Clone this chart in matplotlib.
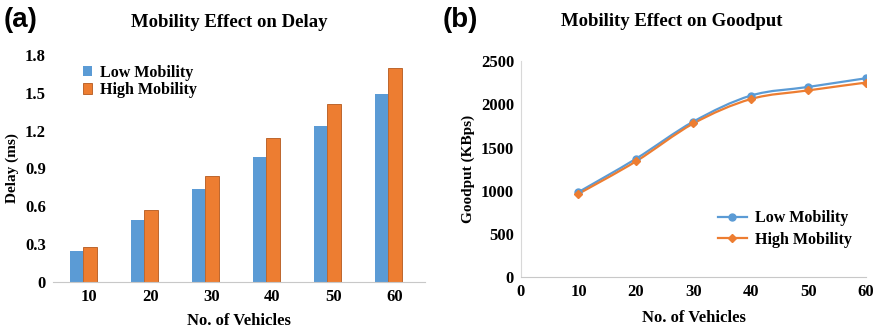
import matplotlib.pyplot as plt
import numpy as np
from matplotlib.path import Path
from matplotlib.patches import PathPatch

vehicles = [10, 20, 30, 40, 50, 60]
delay_low = [0.25, 0.49, 0.74, 0.99, 1.24, 1.49]
delay_high = [0.28, 0.57, 0.84, 1.14, 1.41, 1.70]
good_low = [985, 1370, 1800, 2100, 2200, 2300]
good_high = [965, 1340, 1778, 2060, 2160, 2250]

blue = '#5B9BD5'
orange = '#ED7D31'
serif = 'Liberation Serif'


def smooth_path(x, y, t=1/6):
    # Excel-like smoothed line, Catmull-Rom as bezier segments
    verts = [(x[0], y[0])]
    codes = [Path.MOVETO]
    n = len(x)
    for i in range(n - 1):
        x0, y0 = (x[i - 1], y[i - 1]) if i > 0 else (x[i], y[i])
        x3, y3 = (x[i + 2], y[i + 2]) if i + 2 < n else (x[i + 1], y[i + 1])
        c1 = (x[i] + (x[i + 1] - x0) * t, y[i] + (y[i + 1] - y0) * t)
        c2 = (x[i + 1] - (x3 - x[i]) * t, y[i + 1] - (y3 - y[i]) * t)
        verts += [c1, c2, (x[i + 1], y[i + 1])]
        codes += [Path.CURVE4] * 3
    return Path(verts, codes)


fig = plt.figure(figsize=(8.8, 3.33), dpi=100)

# ---- (a) bars
ax1 = fig.add_axes([0.060, 0.153, 0.423, 0.682])
pos = np.arange(len(vehicles))
w = 0.22
ax1.bar(pos - w / 2, delay_low, w, color=blue, label='Low Mobility')
ax1.bar(pos + w / 2, delay_high, w, color=orange, edgecolor='#b4581c',
        linewidth=0.6, label='High Mobility')
ax1.set_xlim(-0.5, 5.6)
ax1.set_ylim(0, 1.8)
ax1.set_yticks(np.arange(0, 1.81, 0.3))
ax1.set_yticklabels(['0', '0.3', '0.6', '0.9', '1.2', '1.5', '1.8'])
ax1.set_xticks(pos + 0.1)
ax1.set_xticklabels([str(v) for v in vehicles])
ax1.tick_params(length=0, labelsize=12, pad=5)
for s in ['top', 'right', 'left']:
    ax1.spines[s].set_visible(False)
ax1.spines['bottom'].set_color('#c8c8c8')
ax1.set_xlabel('No. of Vehicles', fontsize=12, fontweight='bold', family=serif,
               labelpad=6)
ax1.set_ylabel('Delay (ms)', fontsize=11, fontweight='bold', family=serif,
               labelpad=4)
ax1.set_title('Mobility Effect on Delay', fontsize=13.5, fontweight='bold',
              family=serif, pad=20, x=0.473)
for lab in ax1.get_xticklabels() + ax1.get_yticklabels():
    lab.set_family(serif)
    lab.set_fontweight('bold')
ax1.legend(loc='upper left', bbox_to_anchor=(0.055, 1.0), frameon=False,
           prop={'family': serif, 'weight': 'bold', 'size': 11.5},
           handlelength=0.6, handleheight=0.6, handletextpad=0.5,
           labelspacing=0.1, borderaxespad=0.2)
fig.text(0.004, 0.978, '(a)', fontsize=20, fontweight='bold', va='top',
         family='Liberation Sans')

# ---- (b) lines
ax2 = fig.add_axes([0.592, 0.167, 0.392, 0.650])
for yv, c, m, lab in [(good_low, blue, 'o', 'Low Mobility'),
                      (good_high, orange, 'D', 'High Mobility')]:
    ax2.add_patch(PathPatch(smooth_path(vehicles, yv), fill=False,
                            edgecolor=c, linewidth=1.6))
    ax2.plot(vehicles, yv, linestyle='none', marker=m, color=c,
             markersize=5 if m == 'o' else 4)
    ax2.plot([], [], color=c, marker=m, markersize=5 if m == 'o' else 4,
             linewidth=1.6, label=lab)
ax2.set_xlim(0, 60)
ax2.set_ylim(0, 2500)
ax2.set_xticks(range(0, 61, 10))
ax2.set_yticks(range(0, 2501, 500))
ax2.tick_params(length=0, labelsize=12, pad=5)
for s in ['top', 'right']:
    ax2.spines[s].set_visible(False)
ax2.spines['bottom'].set_color('#c8c8c8')
ax2.spines['left'].set_color('#d8d8d8')
ax2.set_xlabel('No. of Vehicles', fontsize=12, fontweight='bold', family=serif,
               labelpad=7)
ax2.set_ylabel('Goodput (KBps)', fontsize=11, fontweight='bold', family=serif,
               labelpad=4)
ax2.set_title('Mobility Effect on Goodput', fontsize=13.5, fontweight='bold',
              family=serif, pad=25, x=0.438)
for lab in ax2.get_xticklabels() + ax2.get_yticklabels():
    lab.set_family(serif)
    lab.set_fontweight('bold')
ax2.legend(loc='lower right', bbox_to_anchor=(1.0, 0.07), frameon=False,
           prop={'family': serif, 'weight': 'bold', 'size': 11.5},
           handlelength=1.8, handletextpad=0.5, labelspacing=0.35)
fig.text(0.503, 0.978, '(b)', fontsize=20, fontweight='bold', va='top',
         family='Liberation Sans')

fig.savefig('out.png', dpi=100)
